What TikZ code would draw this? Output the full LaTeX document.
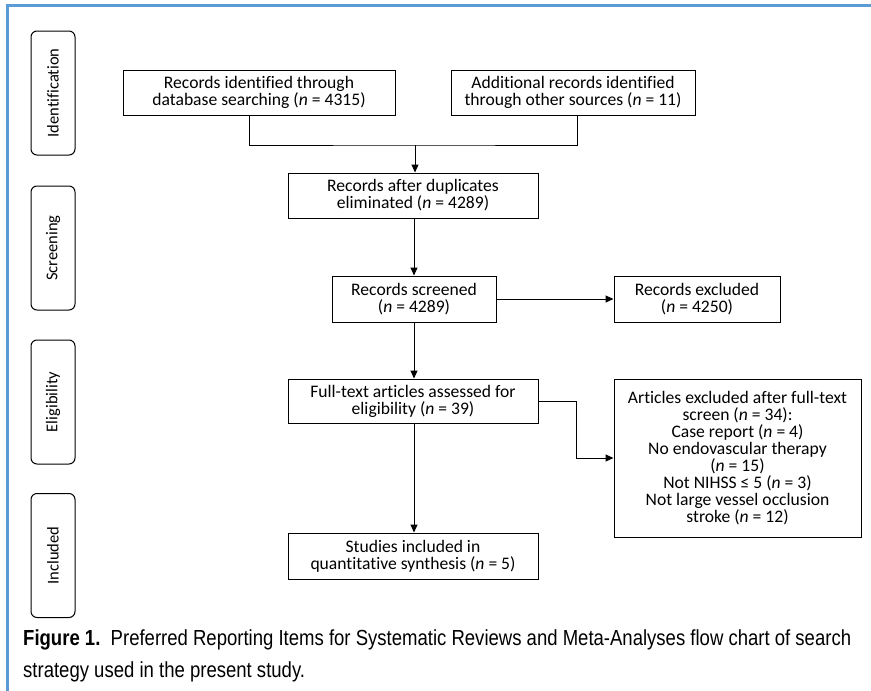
\documentclass[tikz,border=0pt]{standalone}
\usepackage{fontspec}
\setmainfont{Carlito}[Ligatures=CommonOff]
\newfontfamily\capfont[FakeStretch=0.85]{Liberation Sans}
\usetikzlibrary{arrows.meta, positioning}
\definecolor{frameblue}{RGB}{91,155,213}
\newcommand{\nn}{\textit{n}}

\begin{document}
\begin{tikzpicture}[x=1pt, y=-1pt,
        % Define styles for the nodes
        box_node/.style={rectangle, draw=black, line width=1pt, align=center, inner sep=0pt, font=\fontsize{17.6}{17}\selectfont},
        stage_node/.style={rectangle, draw=black, line width=1pt, rounded corners=6pt, rotate=90, minimum width=124pt, minimum height=44pt, inner sep=0pt, font=\fontsize{16.5}{18}\selectfont},
        caption_node/.style={anchor=base west, align=left, inner sep=0pt, font=\capfont\fontsize{21.8}{32}\selectfont},
        % Styles for arrows
        arrow/.style={-{Triangle[length=8pt, width=7pt]}, line width=1pt},
        link/.style={line width=1pt}
    ]
    \useasboundingbox (0,0) rectangle (871,691);

    % Frame of the figure
    \draw[frameblue, line width=3pt] (7,691) -- (7,5) -- (871,5);

    % =========================================================================
    % STAGE LABELS (left column)
    % =========================================================================
    \node (st_ident) [stage_node] at (53,93) {Identification};
    \node (st_screen) [stage_node] at (53,248) {Screening};
    \node (st_elig) [stage_node] at (53,402) {Eligibility};
    \node (st_incl) [stage_node] at (53,555.5) {Included};

    % =========================================================================
    % IDENTIFICATION
    % =========================================================================
    \node (rec_db) [box_node, minimum width=272pt, minimum height=45pt] at (259,92.5)
        {Records identified through\\database searching (\nn{} = 4315)};
    \node (rec_other) [box_node, minimum width=244pt, minimum height=45pt] at (573,92.5)
        {Additional records identified\\through other sources (\nn{} = 11)};

    \coordinate (merge) at (415,145);
    \draw [link] ([xshift=-10pt]rec_db.south) |- (merge) -| ([xshift=4pt]rec_other.south);

    % =========================================================================
    % SCREENING
    % =========================================================================
    \node (rec_dedup) [box_node, minimum width=250pt, minimum height=45pt] at (413,195.5)
        {Records after duplicates\\eliminated (\nn{} = 4289)};
    \draw [arrow] (merge) -- (merge |- rec_dedup.north);

    \node (rec_screen) [box_node, minimum width=164pt, minimum height=46pt] at (414,299)
        {Records screened\\(\nn{} = 4289)};
    \draw [arrow] (rec_dedup.south -| rec_screen.north) -- (rec_screen.north);

    \node (rec_excl) [box_node, minimum width=166pt, minimum height=46pt] at (697,299)
        {Records excluded\\(\nn{} = 4250)};
    \draw [arrow] (rec_screen) -- (rec_excl);

    % =========================================================================
    % ELIGIBILITY
    % =========================================================================
    \node (full_text) [box_node, minimum width=250pt, minimum height=44pt] at (413,401)
        {Full-text articles assessed for\\eligibility (\nn{} = 39)};
    \draw [arrow] (rec_screen.south) -- (rec_screen.south |- full_text.north);

    \node (art_excl) [box_node, minimum width=247pt, minimum height=158pt] at (737.5,458)
        {Articles excluded after full-text\\screen (\nn{} = 34):\\Case report (\nn{} = 4)\\No endovascular therapy\\(\nn{} = 15)\\Not NIHSS ≤ 5 (\nn{} = 3)\\Not large vessel occlusion\\stroke (\nn{} = 12)};
    \draw [arrow] (full_text.east) -- ++(38,0) |- (art_excl.west);

    % =========================================================================
    % INCLUDED
    % =========================================================================
    \node (included) [box_node, minimum width=250pt, minimum height=46pt] at (413,556)
        {Studies included in\\quantitative synthesis (\nn{} = 5)};
    \draw [arrow] (full_text.south -| rec_screen.south) -- (rec_screen.south |- included.north);

    % Caption (base anchor sits on the last line)
    \node (caption) [caption_node] at (23,677)
        {\textbf{Figure 1.}\ \ Preferred Reporting Items for Systematic Reviews and Meta-Analyses flow chart of search\\strategy used in the present study.};

\end{tikzpicture}
\end{document}
